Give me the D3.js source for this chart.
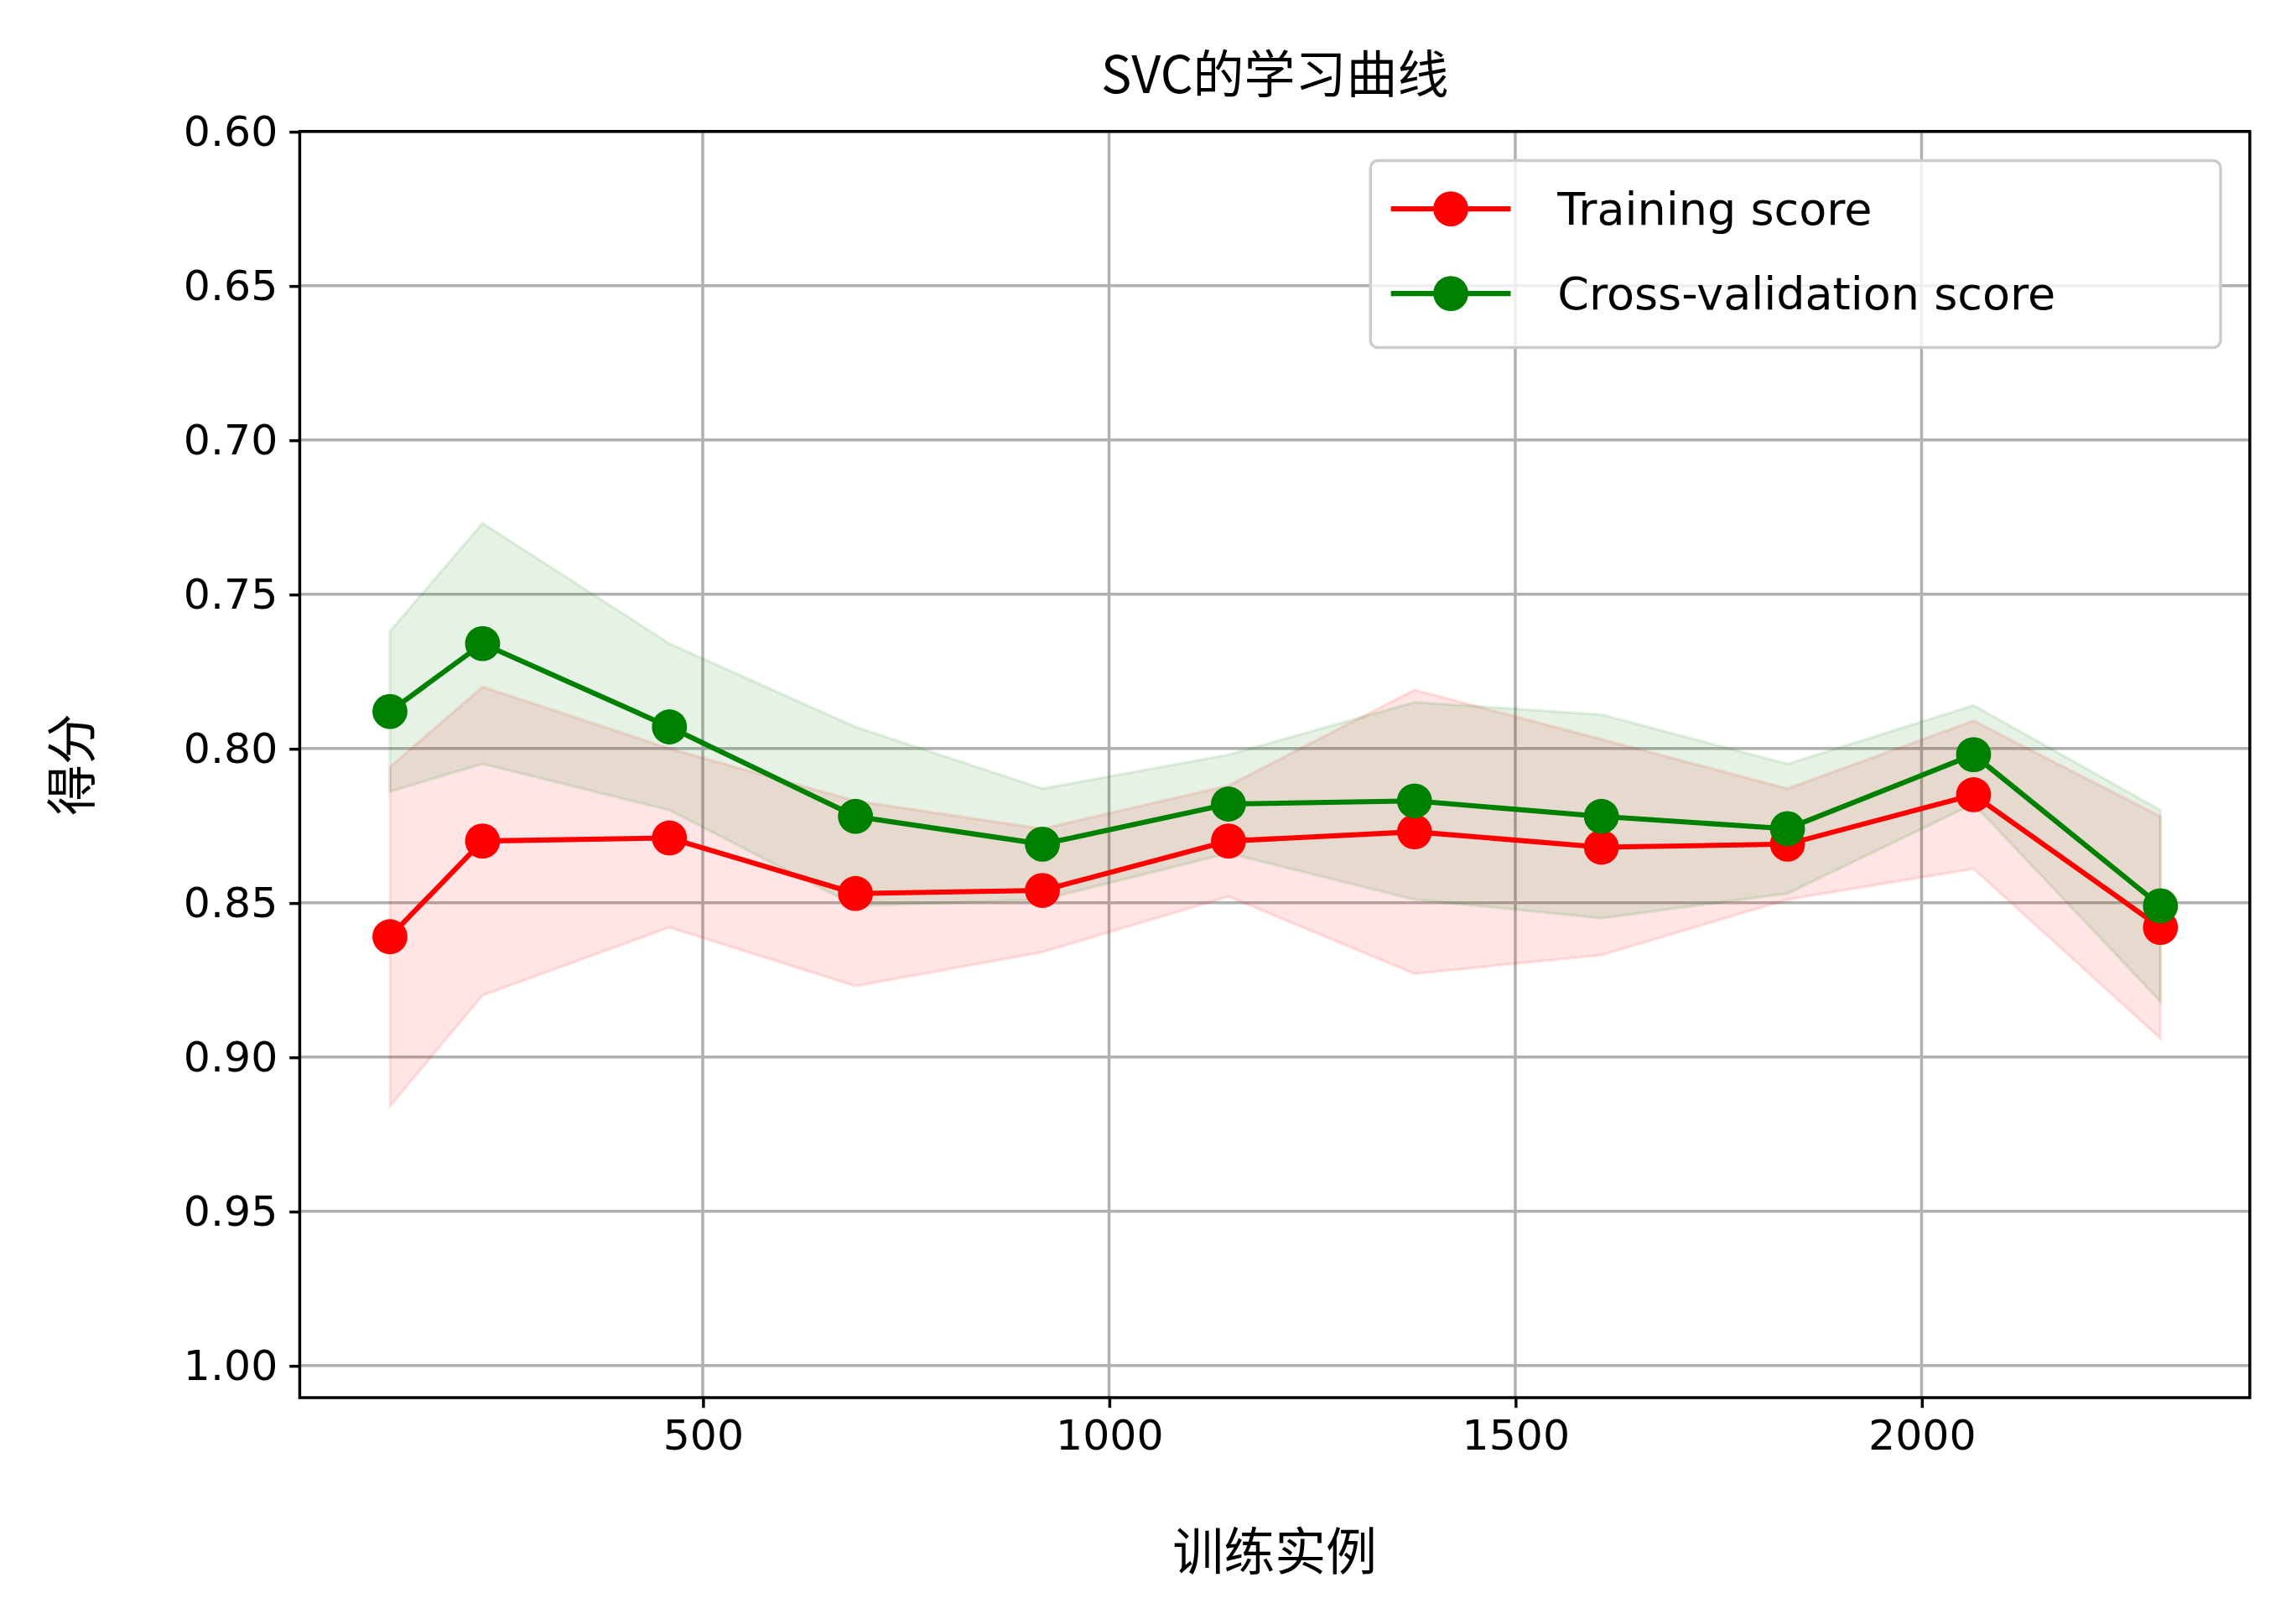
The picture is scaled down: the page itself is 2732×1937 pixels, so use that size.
<!DOCTYPE html>
<html><head><meta charset="utf-8">
<script src="https://cdn.jsdelivr.net/npm/d3@7"></script>
<style>body{margin:0;background:#fff}</style>
</head><body>
<script>
// learning curve data
var sizes = [115, 229, 459, 688, 918, 1147, 1376, 1606, 1835, 2064, 2294];
var trainMean = [0.861, 0.830, 0.829, 0.847, 0.846, 0.830, 0.827, 0.832, 0.831, 0.815, 0.858];
var trainStd = [0.055, 0.050, 0.029, 0.030, 0.020, 0.018, 0.046, 0.035, 0.018, 0.024, 0.036];
var cvMean = [0.788, 0.766, 0.793, 0.822, 0.831, 0.818, 0.817, 0.822, 0.826, 0.802, 0.851];
var cvStd = [0.026, 0.039, 0.027, 0.029, 0.018, 0.016, 0.032, 0.033, 0.021, 0.016, 0.031];
var yTicks = [0.60, 0.65, 0.70, 0.75, 0.80, 0.85, 0.90, 0.95, 1.00];
var xTicks = [500, 1000, 1500, 2000];

var W = 1568, H = 1112;
var L = 205, R = 1540, T = 90, B = 957;
var svg = d3.select("body").append("svg")
	.attr("width", 2732).attr("height", 1937)
	.attr("viewBox", "0 0 " + W + " " + H);

var x = d3.scaleLinear().domain([4, 2404]).range([L, R]);
var y = d3.scaleLinear().domain([0.60, 1.0104]).range([T, B]);

var font = "'DejaVu Sans', sans-serif";

// grid
svg.append("g").selectAll("line").data(xTicks).enter().append("line")
	.attr("x1", d => x(d)).attr("x2", d => x(d)).attr("y1", T).attr("y2", B)
	.attr("stroke", "#b0b0b0").attr("stroke-width", 2);
svg.append("g").selectAll("line").data(yTicks).enter().append("line")
	.attr("x1", L).attr("x2", R).attr("y1", d => y(d)).attr("y2", d => y(d))
	.attr("stroke", "#b0b0b0").attr("stroke-width", 2);

function band(mean, std, col)
{
	var a = d3.area().x((d, i) => x(sizes[i]))
		.y0((d, i) => y(mean[i] - std[i])).y1((d, i) => y(mean[i] + std[i]));
	svg.append("path").attr("d", a(mean)).attr("fill", col).attr("fill-opacity", 0.1)
		.attr("stroke", col).attr("stroke-opacity", 0.1).attr("stroke-width", 2);
}
band(trainMean, trainStd, "red");
band(cvMean, cvStd, "green");

function series(mean, col)
{
	var ln = d3.line().x((d, i) => x(sizes[i])).y(d => y(d));
	svg.append("path").attr("d", ln(mean)).attr("fill", "none").attr("stroke", col).attr("stroke-width", 3.5);
	svg.append("g").selectAll("circle").data(mean).enter().append("circle")
		.attr("cx", (d, i) => x(sizes[i])).attr("cy", d => y(d)).attr("r", 12).attr("fill", col);
}
series(trainMean, "red");
series(cvMean, "green");

// frame
svg.append("rect").attr("x", L).attr("y", T).attr("width", R - L).attr("height", B - T)
	.attr("fill", "none").attr("stroke", "#000").attr("stroke-width", 2);

// axes ticks
var xa = svg.append("g").attr("transform", "translate(0," + B + ")")
	.call(d3.axisBottom(x).tickValues(xTicks).tickSize(7).tickPadding(8).tickFormat(d3.format("d")));
var ya = svg.append("g").attr("transform", "translate(" + L + ",0)")
	.call(d3.axisLeft(y).tickValues(yTicks).tickSize(7).tickPadding(8).tickFormat(d3.format(".2f")));
[xa, ya].forEach(function(g){
	g.select(".domain").remove();
	g.selectAll("line").attr("stroke-width", 2);
	g.selectAll("text").attr("font-size", 29).attr("font-family", font).attr("fill", "#000");
});

var cjk = "'Noto Sans CJK SC', sans-serif";
svg.append("text").attr("x", (L + R) / 2).attr("y", 64).attr("text-anchor", "middle")
	.attr("font-size", 35).attr("font-family", cjk).text("SVC的学习曲线");
svg.append("text").attr("x", (L + R) / 2).attr("y", 1075).attr("text-anchor", "middle")
	.attr("font-size", 35).attr("font-family", cjk).text("训练实例");
svg.append("text").attr("transform", "translate(62," + ((T + B) / 2) + ") rotate(-90)")
	.attr("text-anchor", "middle").attr("font-size", 35).attr("font-family", cjk).text("得分");

// legend
var lg = svg.append("g");
lg.append("rect").attr("x", 938).attr("y", 110).attr("width", 582).attr("height", 128).attr("rx", 5)
	.attr("fill", "#fff").attr("fill-opacity", 0.8).attr("stroke", "#ccc").attr("stroke-width", 2);
var items = [["Training score", "red"], ["Cross-validation score", "green"]];
items.forEach(function(it, i){
	var cy = 143 + i * 58;
	lg.append("line").attr("x1", 952).attr("x2", 1034).attr("y1", cy).attr("y2", cy)
		.attr("stroke", it[1]).attr("stroke-width", 3.5);
	lg.append("circle").attr("cx", 993).attr("cy", cy).attr("r", 12).attr("fill", it[1]);
	lg.append("text").attr("x", 1066).attr("y", cy + 11).attr("font-size", 31)
		.attr("font-family", font).text(it[0]);
});
</script>
</body></html>
